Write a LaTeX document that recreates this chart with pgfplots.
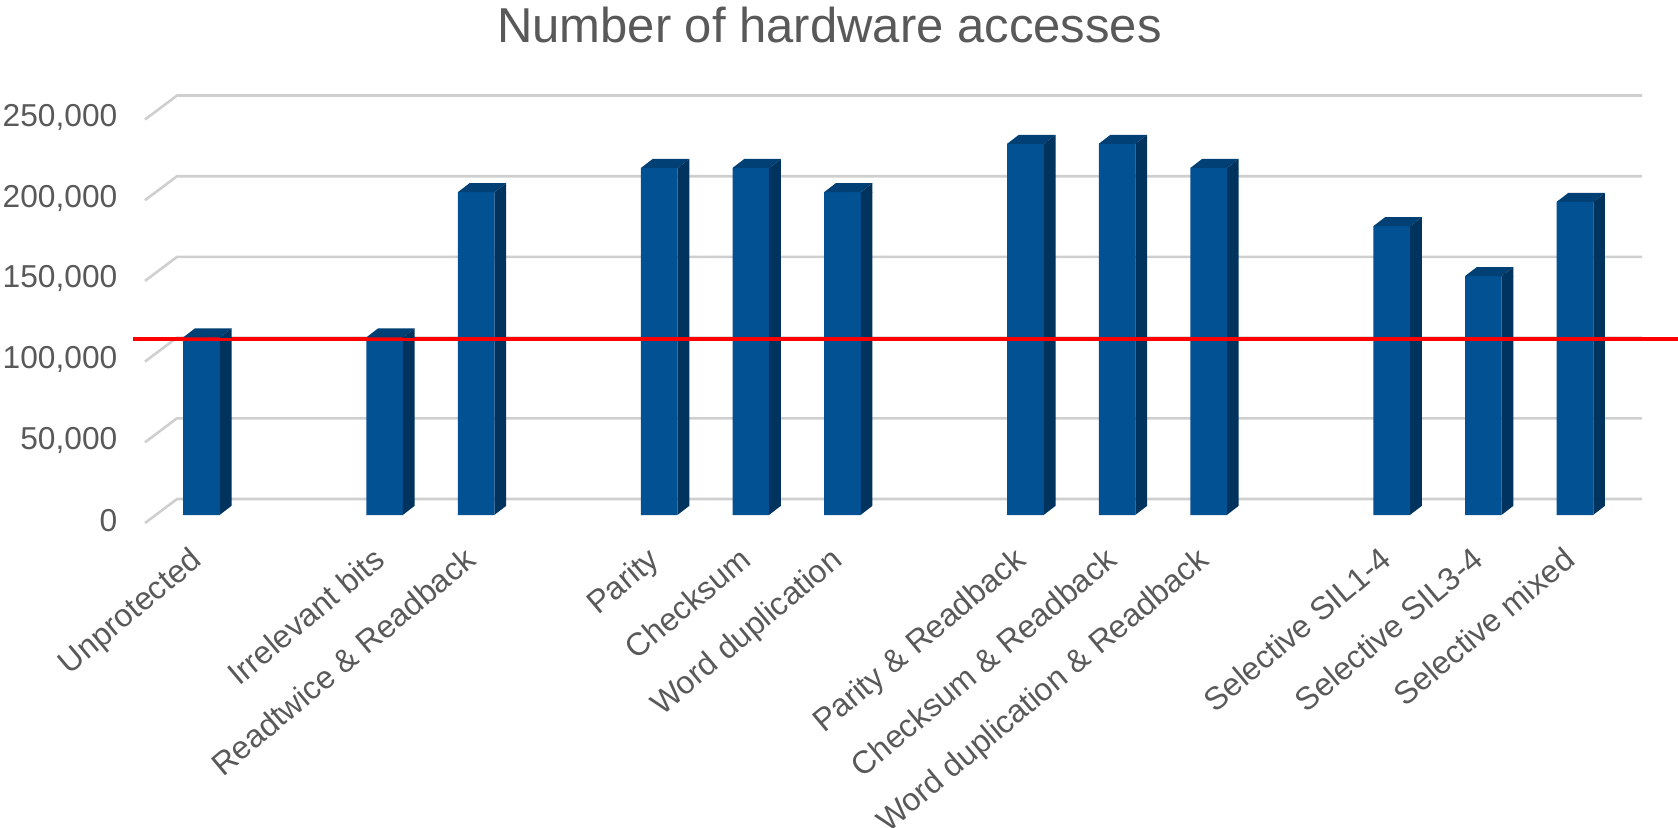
\documentclass[border=0pt]{standalone}
\usepackage{fontspec}
\setmainfont{Liberation Sans}
\usepackage{pgfplots}
\pgfplotsset{compat=1.18}
\usepackage{pgfplotstable}

\definecolor{txt}{HTML}{595959}
\definecolor{front}{RGB}{2,82,147}
\definecolor{side}{RGB}{0,51,94}
\definecolor{topc}{RGB}{0,64,116}
\definecolor{gridc}{HTML}{CFCFCF}

% top face of a bar (fixed size, placed at the bar's top centre)
\pgfdeclareplotmark{top3d}{%
  \pgfsetfillcolor{topc}%
  \pgfpathmoveto{\pgfpoint{-9.175pt}{0pt}}%
  \pgfpathlineto{\pgfpoint{9.175pt}{0pt}}%
  \pgfpathlineto{\pgfpoint{15.025pt}{4.5pt}}%
  \pgfpathlineto{\pgfpoint{-3.325pt}{4.5pt}}%
  \pgfpathclose
  \pgfusepath{fill}%
  \pgfsetfillcolor{side}%
  \pgfpathmoveto{\pgfpoint{9.175pt}{0pt}}%
  \pgfpathlineto{\pgfpoint{15.025pt}{4.5pt}}%
  \pgfpathlineto{\pgfpoint{15.025pt}{-0.2pt}}%
  \pgfpathlineto{\pgfpoint{9.175pt}{-0.2pt}}%
  \pgfpathclose
  \pgfusepath{fill}%
}
% cut the foot of the side face into a slant
\pgfdeclareplotmark{bot3d}{%
  \pgfsetfillcolor{white}%
  \pgfpathmoveto{\pgfpoint{9.175pt}{0pt}}%
  \pgfpathlineto{\pgfpoint{15.025pt}{4.5pt}}%
  \pgfpathlineto{\pgfpoint{15.4pt}{4.5pt}}%
  \pgfpathlineto{\pgfpoint{15.4pt}{-0.4pt}}%
  \pgfpathlineto{\pgfpoint{9.175pt}{-0.4pt}}%
  \pgfpathclose
  \pgfusepath{fill}%
}

\pgfplotstableread{
x v
0 110000
2 110000
3 200000
5 215000
6 215000
7 200000
9 230000
10 230000
11 215000
13 179000
14 148000
15 194000
}\data

\begin{document}
\begin{tikzpicture}
\useasboundingbox (0,0) rectangle (839pt,413.5pt);
\node[anchor=base, font=\fontsize{24.5}{29}\selectfont, text=txt] at (414.7pt,392pt) {Number of hardware accesses};
\begin{axis}[
  at={(77.85pt,156pt)}, anchor=south west,
  scale only axis, width=732.5pt, height=201.75pt,
  xmin=-0.5, xmax=15.5, ymin=0, ymax=250000,
  clip=false,
  scaled y ticks=false,
  axis line style={draw=none},
  major tick length=0pt,
  xtick={0,2,3,5,6,7,9,10,11,13,14,15},
  xticklabels={Unprotected, Irrelevant bits, Readtwice \& Readback, Parity, Checksum, Word duplication, Parity \& Readback, Checksum \& Readback, Word duplication \& Readback, Selective SIL1-4, Selective SIL3-4, Selective mixed},
  ytick={0,50000,100000,150000,200000,250000},
  yticklabels={0,{50,000},{100,000},{150,000},{200,000},{250,000}},
  yticklabel style={font=\fontsize{15.85}{18}\selectfont, text=txt, anchor=east, inner sep=0pt, xshift=-19pt, yshift=-3pt},
  xticklabel style={font=\fontsize{16}{19}\selectfont, text=txt, xshift=-6.5pt, yshift=-15pt, rotate=40, anchor=north east, inner sep=0pt},
]
\pgfplotsinvokeforeach{0,50000,100000,150000,200000,250000}{
  \draw[gridc, line width=1.3pt, line join=round]
    ([shift={(-5.35pt,-4pt)}]axis cs:-0.5,#1) --
    ([shift={(10.65pt,8pt)}]axis cs:-0.5,#1) --
    ([shift={(10.65pt,8pt)}]axis cs:15.5,#1);
}
\addplot[ybar, bar width=18.35pt, bar shift=0pt, fill=front, draw=none] table[x=x,y=v]{\data};
\addplot[ybar, bar width=5.85pt, bar shift=12.1pt, fill=side, draw=none] table[x=x,y=v]{\data};
\addplot[only marks, mark=top3d] table[x=x,y=v]{\data};
\addplot[only marks, mark=bot3d] table[x=x,y expr=0]{\data};
\addplot[red, line width=2.2pt] coordinates {(-0.748,109000) (16.13,109000)};
\end{axis}
\end{tikzpicture}
\end{document}
